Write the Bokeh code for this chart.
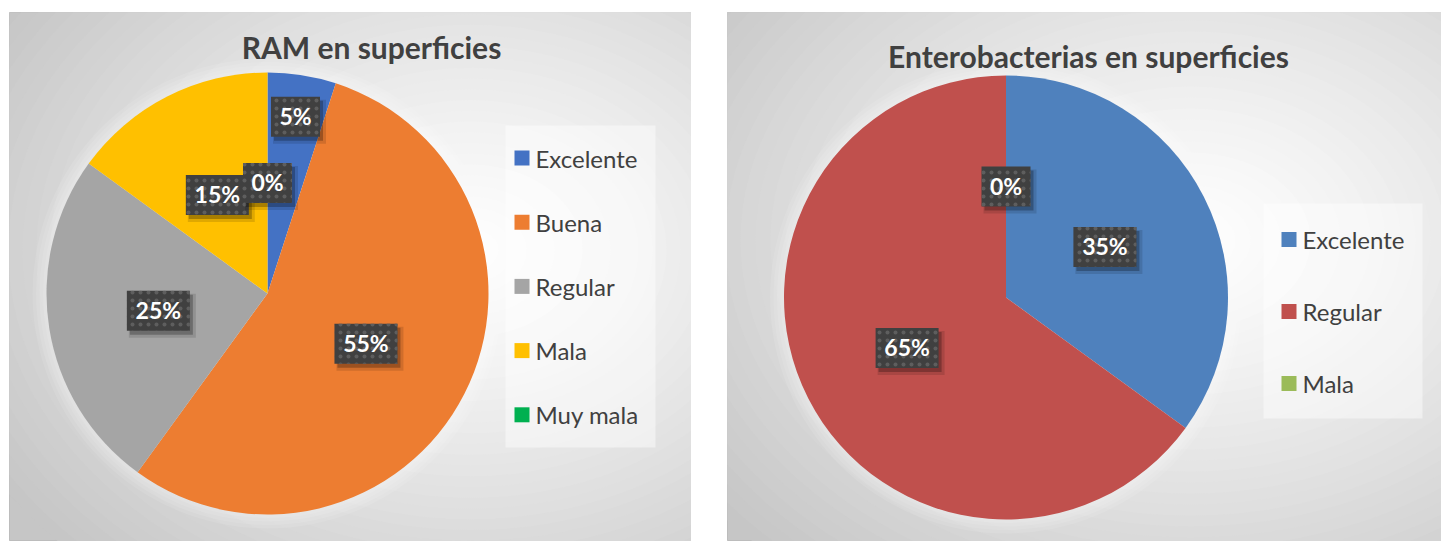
import numpy as np
from bokeh.plotting import figure
from bokeh.layouts import row
from bokeh.models import Range1d
from bokeh.embed import file_html
from bokeh.resources import INLINE
from bokeh.core.properties import value

# ---------------- data ----------------
ram_title = "RAM en superficies"
ram_categories = ["Excelente", "Buena", "Regular", "Mala", "Muy mala"]
ram_values = [5, 55, 25, 15, 0]
ram_colors = ["#4472C4", "#ED7D31", "#A5A5A5", "#FFC000", "#00B050"]

ent_title = "Enterobacterias en superficies"
ent_categories = ["Excelente", "Regular", "Mala"]
ent_values = [35, 65, 0]
ent_colors = ["#4F81BD", "#C0504D", "#9BBB59"]

FONT = "Lato"
TXT = "#404040"
TOP = 541


def lerp_gray(t):
    g = int(round(255 - (255 - 198) * t))
    return "#%02x%02x%02x" % (g, g, g)


def make_panel(width, left_border, x0, x1, title, title_xy, cats, vals, cols,
               center, radius, grad, legend_box, legend_rows):
    p = figure(width=width, height=TOP, x_range=Range1d(x0, x1), y_range=Range1d(-TOP, -12),
               min_border_left=left_border, min_border_right=0, min_border_top=12, min_border_bottom=0,
               x_axis_type=None, y_axis_type=None, output_backend="svg", toolbar_location=None,
               background_fill_color="#c6c6c6", border_fill_color="white",
               outline_line_color="#bcbcbc", outline_line_width=1)
    p.grid.visible = False

    # radial gradient background
    gx, gy, grx, gry = grad
    n = 40
    ts = np.linspace(1.0, 0.0, n, endpoint=False)
    p.ellipse(x=[gx] * n, y=[-gy] * n, width=[2 * grx * t for t in ts], height=[2 * gry * t for t in ts],
              fill_color=[lerp_gray(t ** 1.2) for t in ts], line_color=None)

    # soft glow around the pie
    cx, cy = center
    for k in range(4):
        p.circle(x=[cx], y=[-cy], radius=radius + 14 - 3.5 * k, fill_color="white", fill_alpha=0.10,
                 line_color=None)

    # title
    p.text(x=[title_xy[0]], y=[-title_xy[1]], text=[title], text_font=value(FONT), text_font_style="bold",
           text_font_size="30px", text_color=TXT, text_align="center", text_baseline="middle")

    # pie
    v = np.array(vals, dtype=float)
    frac = v / v.sum()
    cum_after = np.cumsum(frac)
    cum_before = cum_after - frac
    nz = frac > 0
    starts = np.pi / 2 - 2 * np.pi * cum_before
    ends = np.pi / 2 - 2 * np.pi * cum_after
    p.wedge(x=[cx] * int(nz.sum()), y=[-cy] * int(nz.sum()), radius=radius,
            start_angle=list(starts[nz]), end_angle=list(ends[nz]), direction="clock",
            fill_color=[c for c, z in zip(cols, nz) if z], line_color=None)

    # data labels
    mids = 2 * np.pi * (cum_before + frac / 2)
    rf = np.where((frac > 0) & (frac < 0.1), 0.81, 0.5)
    lx = cx + rf * radius * np.sin(mids)
    ly = -(cy - rf * radius * np.cos(mids))
    labels = ["%d%%" % round(f * 100) for f in frac]
    widths = [21 + 14 * len(s) for s in labels]
    for i in range(len(labels)):
        p.rect(x=[lx[i] + 4], y=[ly[i] - 5], width=widths[i] + 4, height=44, fill_color="black",
               fill_alpha=0.12, line_color=None)
        p.rect(x=[lx[i] + 3], y=[ly[i] - 4], width=widths[i], height=40, fill_color="black",
               fill_alpha=0.25, line_color=None)
        p.rect(x=[lx[i]], y=[ly[i]], width=widths[i], height=40, fill_color="#404040", line_color=None,
               hatch_pattern="dot", hatch_color="#5e5e5e", hatch_scale=8, hatch_weight=2.5)
        p.text(x=[lx[i]], y=[ly[i] + 1], text=[labels[i]], text_font=value(FONT), text_font_style="bold",
               text_font_size="23px", text_color="white", text_align="center", text_baseline="middle")

    # legend
    bx0, by0, bx1, by1 = legend_box
    p.quad(left=bx0, right=bx1, top=-by0, bottom=-by1, fill_color="white", fill_alpha=0.45, line_color=None)
    sx, tx, y_first, step = legend_rows
    ys = [-(y_first + step * i) for i in range(len(cats))]
    p.rect(x=[sx] * len(cats), y=ys, width=15, height=15, fill_color=cols, line_color=None)
    p.text(x=[tx] * len(cats), y=ys, text=cats, text_font=value(FONT), text_font_size="24px",
           text_color=TXT, text_align="left", text_baseline="middle")
    return p


p1 = make_panel(691, 9, 9, 691, ram_title, (371, 46), ram_categories, ram_values, ram_colors,
                (267, 293), 221, (470, 250, 560, 430), (505, 125, 655, 447), (521.5, 535, 157.5, 64.2))
p2 = make_panel(750, 36, 727, 1441, ent_title, (1088, 55), ent_categories, ent_values, ent_colors,
                (1005.5, 297), 222, (1190, 240, 600, 440), (1263, 203, 1422, 418), (1288.5, 1302, 239, 72))

layout = row(p1, p2)
open("out.html", "w").write(file_html(layout, INLINE))
